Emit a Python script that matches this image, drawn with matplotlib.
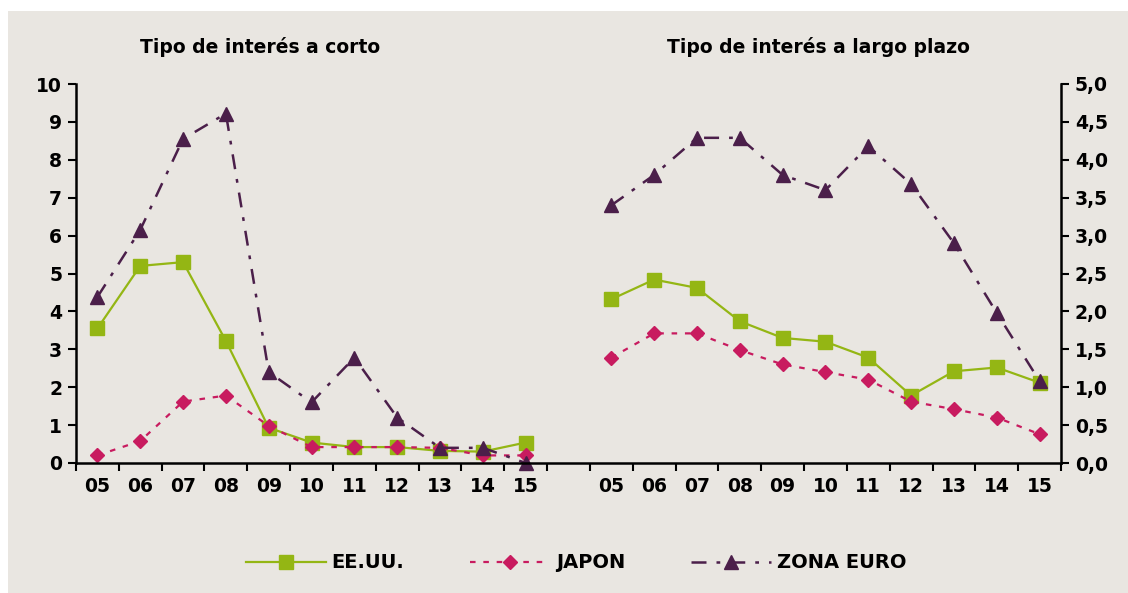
import numpy as np
import matplotlib
matplotlib.use('Agg')
import matplotlib.pyplot as plt
from matplotlib.patches import Rectangle
from matplotlib.ticker import FuncFormatter

years = ['05', '06', '07', '08', '09', '10', '11', '12', '13', '14', '15']

# tipo de interes a corto (eje izquierdo)
corto_eeuu = [3.55, 5.2, 5.3, 3.22, 0.93, 0.54, 0.42, 0.42, 0.32, 0.3, 0.54]
corto_japon = [0.2, 0.58, 1.62, 1.78, 0.98, 0.42, 0.42, 0.42, 0.4, 0.2, 0.2]
corto_euro = [4.38, 6.15, 8.55, 9.22, 2.4, 1.6, 2.78, 1.2, 0.4, 0.4, 0.0]

# tipo de interes a largo plazo (eje derecho)
largo_eeuu = [2.16, 2.42, 2.31, 1.87, 1.65, 1.6, 1.39, 0.89, 1.21, 1.26, 1.06]
largo_japon = [1.39, 1.71, 1.71, 1.49, 1.3, 1.2, 1.1, 0.81, 0.71, 0.6, 0.38]
largo_euro = [3.4, 3.8, 4.29, 4.29, 3.8, 3.6, 4.18, 3.68, 2.9, 1.98, 1.08]

titles = ['Tipo de interés a corto', 'Tipo de interés a largo plazo']
labels = ['EE.UU.', 'JAPON', 'ZONA EURO']

bg = '#e9e6e1'
c_us = '#94b614'
c_jp = '#c81b5f'
c_eu = '#4b1f4a'

plt.rcParams['font.family'] = 'DejaVu Sans'
plt.rcParams['font.weight'] = 'bold'

fig = plt.figure(figsize=(11.28, 5.93), dpi=100)
fig.patch.set_facecolor('white')
fig.patches.append(Rectangle((8/1128, 0), 1, 1 - 11/593, transform=fig.transFigure,
                             facecolor=bg, edgecolor='none', zorder=-10))

ax = fig.add_axes([76/1128, 1 - 463/593, (1061 - 76)/1128, (463 - 84)/593])
ax.set_facecolor('none')
ax2 = ax.twinx()
ax2.set_facecolor('none')

n = len(years)
xl = np.arange(n)
xr = np.arange(n) + n + 1

styles = [
    dict(color=c_us, marker='s', markersize=10, linestyle='-', linewidth=1.6),
    dict(color=c_jp, marker='D', markersize=7.5, linestyle=(0, (2.5, 3.5)), linewidth=1.6),
    dict(color=c_eu, marker='^', markersize=10, linestyle=(0, (6, 4, 1.5, 4)), linewidth=1.8),
]

handles = []
for vals, st, lab in zip([corto_eeuu, corto_japon, corto_euro], styles, labels):
    h, = ax.plot(xl, vals, label=lab, clip_on=False, **st)
    handles.append(h)
for vals, st in zip([largo_eeuu, largo_japon, largo_euro], styles):
    ax2.plot(xr, vals, clip_on=False, **st)

ax.set_xlim(-0.5, 2 * n + 0.5)
ax.set_ylim(0, 10)
ax2.set_ylim(0, 5)
ax.set_yticks(np.arange(0, 11, 1))
ax2.set_yticks(np.arange(0, 5.01, 0.5))
ax2.yaxis.set_major_formatter(FuncFormatter(lambda v, p: ('%.1f' % v).replace('.', ',')))

ax.set_xticks(list(xl) + list(xr))
ax.set_xticklabels(years + years)
ax.set_xticks(np.arange(-0.5, 2 * n + 1, 1), minor=True)
ax.tick_params(axis='x', which='major', length=0, pad=10, labelsize=13.5)
ax.tick_params(axis='x', which='minor', length=6, width=1.5, direction='out')
ax.tick_params(axis='y', length=6, width=1.5, labelsize=13.5, pad=4)
ax2.tick_params(axis='y', length=6, width=1.5, labelsize=13.5, pad=4)

for a in (ax, ax2):
    for s in a.spines.values():
        s.set_linewidth(1.8)
    a.spines['top'].set_visible(False)
ax.spines['right'].set_visible(False)
ax2.spines['left'].set_visible(False)
ax2.spines['bottom'].set_visible(False)

fig.text(260/1128, 1 - 47/593, titles[0], ha='center', va='center', fontsize=13.5, fontweight='bold')
fig.text(818/1128, 1 - 47/593, titles[1], ha='center', va='center', fontsize=13.5, fontweight='bold')

leg = fig.legend(handles=handles, loc='center', bbox_to_anchor=(576/1128, 1 - 563/593), ncol=3,
                 frameon=False, handlelength=4.1, columnspacing=3.4, handletextpad=0.3,
                 prop=dict(size=14, weight='bold'))

fig.savefig('out.png', dpi=100, facecolor=fig.get_facecolor())
